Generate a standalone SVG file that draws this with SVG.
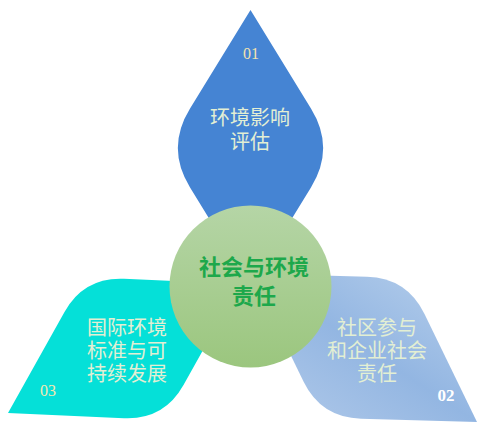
<svg xmlns="http://www.w3.org/2000/svg" width="494" height="430" viewBox="0 0 494 430">
<defs>
<linearGradient id="gRight" x1="1" y1="0" x2="0" y2="1">
<stop offset="0" stop-color="#B8D0EC"/>
<stop offset="0.5" stop-color="#93B6E2"/>
<stop offset="1" stop-color="#B3CBEA"/>
</linearGradient>
<linearGradient id="gCircle" x1="0" y1="0" x2="0" y2="1">
<stop offset="0" stop-color="#B5D5A6"/>
<stop offset="1" stop-color="#9BC67E"/>
</linearGradient>
<style>
.cjk{font-family:"Noto Sans CJK SC","Noto Sans",sans-serif;text-anchor:middle;}
.pale{fill:#E3EFD3;font-size:20px;}
.num{font-family:"Liberation Serif","DejaVu Serif",serif;text-anchor:middle;}
</style>
</defs>
<g id="connectors"></g>
<g id="node-left">
<path d="M8,413 L64.5,311.9 Q84,277 124,278.8 L240,284 L183.5,385.1 Q164,420 124,418.2 Z" fill="#05E0D8"/>
<text class="cjk pale" x="127" y="335">国际环境</text>
<text class="cjk pale" x="127" y="358">标准与可</text>
<text class="cjk pale" x="127" y="381">持续发展</text>
<text class="num" x="48" y="396" font-size="16" fill="#F5E8B0">03</text>
</g>
<g id="node-right">
<path d="M477,422 L424.5,314 Q407,278 367,276.8 L251,273.5 L303.5,381.5 Q321,417.5 361,418.7 Z" fill="url(#gRight)"/>
<text class="cjk pale" x="377" y="335">社区参与</text>
<text class="cjk pale" x="377" y="358">和企业社会</text>
<text class="cjk pale" x="377" y="381">责任</text>
<text class="num" x="446" y="401" font-size="17" font-weight="bold" fill="#FFFFFF">02</text>
</g>
<g id="node-top">
<path d="M250.5,10 L311.1,108.8 Q335.2,148 311.1,187.2 L250.5,286 L189.9,187.2 Q165.8,148 189.9,108.8 Z" fill="#4584D3"/>
<text class="num" x="251" y="59" font-size="16" fill="#F2E2B0">01</text>
<text class="cjk pale" x="250" y="125">环境影响</text>
<text class="cjk pale" x="250" y="149">评估</text>
</g>
<g id="node-center">
<circle cx="250.5" cy="286.5" r="81" fill="url(#gCircle)"/>
<text class="cjk" x="254" y="275" font-size="22" font-weight="bold" fill="#1DA84B">社会与环境</text>
<text class="cjk" x="254" y="304" font-size="22" font-weight="bold" fill="#1DA84B">责任</text>
</g>
</svg>
